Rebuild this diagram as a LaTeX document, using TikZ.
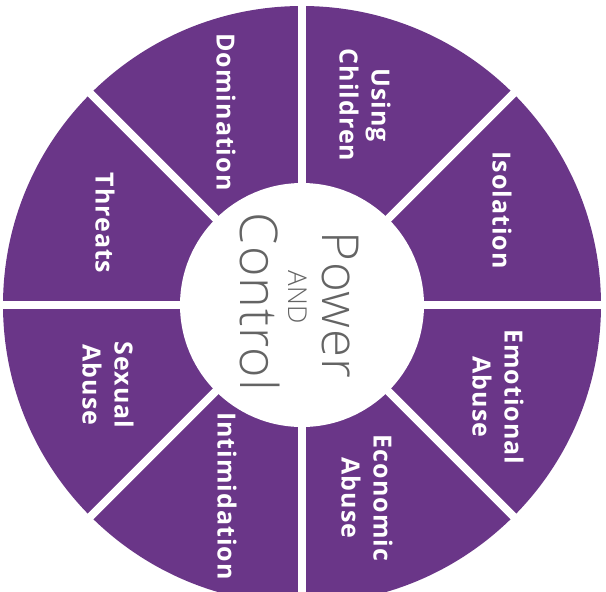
\documentclass[tikz,border=0pt]{standalone}
\usepackage{fontspec}
\newfontfamily\labelfont{Open Sans}[LetterSpace=4]
\newfontfamily\lightfont{Open Sans Light}[LetterSpace=2]
\definecolor{wheel}{RGB}{106,54,136}
\definecolor{ink}{RGB}{100,100,100}
\begin{document}
\begin{tikzpicture}[x=1pt,y=-1pt,
  seglabel/.style={text=white, font=\labelfont\bfseries\fontsize{25}{32}\selectfont, rotate=-90, align=center, inner sep=0pt},
  centertext/.style={text=ink, rotate=-90, inner sep=0pt, anchor=base},
  gap/.style={white, line width=8pt}]
\useasboundingbox (0,0) rectangle (606,592);
\clip (0,0) rectangle (606,592);
\coordinate (c) at (302,305);
\fill[wheel] (c) circle[radius=299pt];
\foreach \a in {0,45,90,135}
  \draw[gap] ([shift={(\a:310pt)}]c) -- ([shift={(\a+180:310pt)}]c);
\fill[white] (c) circle[radius=122pt];
\node[seglabel] (domination) at (226,112) {Domination};
\node[seglabel] (children) at (365,105) {Using\\Children};
\node[seglabel] (isolation) at (502,210) {Isolation};
\node[seglabel] (threats) at (105,223) {Threats};
\node[seglabel] (emotional) at (498,397) {Emotional\\Abuse};
\node[seglabel] (economic) at (367,498) {Economic\\Abuse};
\node[seglabel] (intimidation) at (227,496) {Intimidation};
\node[seglabel] (sexual) at (108,385) {Sexual\\Abuse};
\node[centertext, font=\lightfont\fontsize{51}{51}\selectfont] (power) at (322,305) {Power};
\node[centertext, font=\lightfont\fontsize{26}{26}\selectfont] (and) at (288,297) {AND};
\node[centertext, font=\lightfont\fontsize{52}{52}\selectfont] (control) at (240,302) {Control};
\end{tikzpicture}
\end{document}
